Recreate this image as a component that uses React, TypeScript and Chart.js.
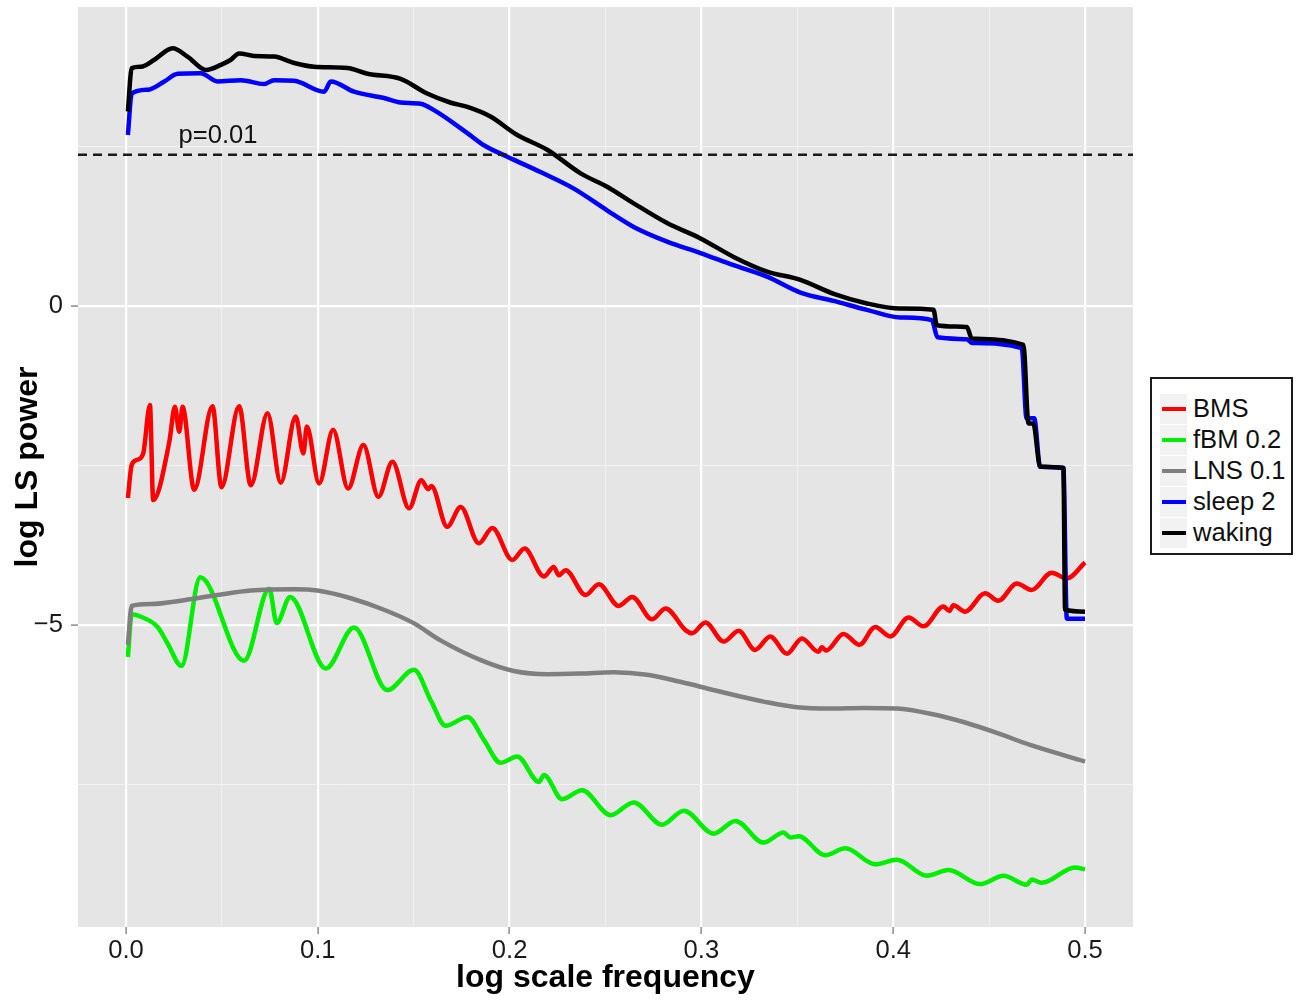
import React, { useEffect, useRef } from "react";
import { Chart, registerables, ChartConfiguration, Plugin } from "chart.js";

Chart.register(...registerables);

// axes
const X_MIN = -0.025;
const X_MAX = 0.525;
const Y_MIN = -9.733;
const Y_MAX = 4.687;
const X_TICKS = [0, 0.05, 0.1, 0.15, 0.2, 0.25, 0.3, 0.35, 0.4, 0.45, 0.5];
const X_TICK_LABELS = ["0.0", "", "0.1", "", "0.2", "", "0.3", "", "0.4", "", "0.5"];
const Y_TICKS = [-7.5, -5, -2.5, 0, 2.5];
const Y_TICK_LABELS = ["", "\u22125", "", "0", ""];

// significance threshold (dashed line) and its label
const THRESHOLD = 2.37;
const P_LABEL = "p=0.01";
const P_LABEL_X = 0.048;
const P_LABEL_Y = 2.66;

const SERIES_NAMES = ["BMS", "fBM 0.2", "LNS 0.1", "sleep 2", "waking"];
const SERIES_COLORS = ["#FF0000", "#00EE00", "#7F7F7F", "#0000FF", "#000000"];

// BMS (red)
const BMS_X = [
  0.001, 0.003, 0.006, 0.009, 0.0125, 0.0142, 0.0226, 0.0255, 0.0278, 0.0295,
  0.0356, 0.0451, 0.0498, 0.059, 0.0651, 0.0738, 0.0807, 0.0885, 0.0925,
  0.0943, 0.1007, 0.108, 0.1158, 0.1238, 0.1316, 0.1389, 0.1476, 0.154,
  0.1576, 0.1592, 0.1675, 0.1745, 0.184, 0.191, 0.2014, 0.2078, 0.2179, 0.223,
  0.2257, 0.2292, 0.2396, 0.2465, 0.2569, 0.2639, 0.2743, 0.2813, 0.2917,
  0.2951, 0.3021, 0.3116, 0.3194, 0.328, 0.3359, 0.3446, 0.3524, 0.361,
  0.3628, 0.365, 0.3741, 0.3824, 0.3906, 0.3984, 0.408, 0.4158, 0.4262,
  0.4293, 0.4314, 0.4375, 0.4479, 0.4548, 0.4644, 0.4722, 0.4826, 0.4905, 0.5,
];
const BMS_Y = [
  -3.01, -2.49, -2.41, -2.31, -1.55, -3.04, -2.13, -1.58, -1.97, -1.58, -2.88,
  -1.57, -2.84, -1.57, -2.81, -1.68, -2.77, -1.73, -2.31, -1.89, -2.78, -1.94,
  -2.86, -2.18, -2.99, -2.44, -3.17, -2.73, -2.87, -2.82, -3.46, -3.15, -3.72,
  -3.48, -3.98, -3.8, -4.24, -4.09, -4.22, -4.14, -4.53, -4.36, -4.7, -4.56,
  -4.91, -4.74, -5.08, -5.13, -4.96, -5.26, -5.09, -5.39, -5.18, -5.45, -5.21,
  -5.42, -5.35, -5.4, -5.14, -5.31, -5.03, -5.18, -4.88, -5.02, -4.71, -4.78,
  -4.69, -4.79, -4.5, -4.62, -4.35, -4.45, -4.18, -4.27, -4.02,
];

// fBM 0.2 (green)
const FBM_X = [
  0.001, 0.003, 0.0078, 0.0165, 0.0217, 0.029, 0.0387, 0.0616, 0.0747, 0.0786,
  0.0856, 0.1042, 0.1189, 0.1362, 0.1502, 0.1589, 0.1667, 0.178, 0.1866,
  0.1953, 0.204, 0.2153, 0.2179, 0.2274, 0.2378, 0.2526, 0.2647, 0.2795,
  0.2908, 0.3064, 0.3177, 0.3324, 0.3428, 0.3464, 0.3507, 0.3646, 0.375,
  0.3906, 0.4019, 0.4175, 0.4288, 0.4453, 0.4575, 0.4696, 0.4722, 0.4774,
  0.4948, 0.5,
];
const FBM_Y = [
  -5.5, -4.83, -4.87, -5.03, -5.29, -5.64, -4.25, -5.56, -4.43, -4.97, -4.56,
  -5.68, -5.04, -6.02, -5.7, -6.18, -6.58, -6.44, -6.8, -7.16, -7.06, -7.46,
  -7.35, -7.73, -7.59, -7.98, -7.78, -8.13, -7.91, -8.27, -8.07, -8.41, -8.25,
  -8.33, -8.31, -8.61, -8.5, -8.75, -8.68, -8.93, -8.84, -9.06, -8.93, -9.07,
  -8.99, -9.04, -8.8, -8.83,
];

// LNS 0.1 (grey)
const LNS_X = [
  0.001, 0.003, 0.013, 0.0304, 0.0477, 0.065, 0.0877, 0.0998, 0.1172, 0.1345,
  0.15, 0.164, 0.185, 0.2022, 0.2196, 0.237, 0.2543, 0.2717, 0.289, 0.3064,
  0.3203, 0.3324, 0.3498, 0.3672, 0.3845, 0.4019, 0.4193, 0.4366, 0.454,
  0.4714, 0.5,
];
const LNS_Y = [
  -5.31, -4.7, -4.67, -4.61, -4.53, -4.46, -4.44, -4.46, -4.58, -4.76, -4.97,
  -5.24, -5.55, -5.72, -5.77, -5.76, -5.74, -5.78, -5.89, -6.02, -6.12, -6.2,
  -6.29, -6.31, -6.3, -6.31, -6.39, -6.52, -6.69, -6.88, -7.14,
];

// sleep 2 (blue)
const SLEEP_X = [
  0.001, 0.003, 0.0113, 0.02, 0.027, 0.039, 0.0477, 0.0599, 0.072, 0.0772,
  0.0877, 0.1033, 0.1068, 0.1189, 0.1345, 0.1432, 0.1536, 0.1606, 0.178,
  0.1866, 0.1988, 0.2161, 0.2335, 0.2508, 0.2647, 0.2821, 0.2995, 0.3168,
  0.3342, 0.3516, 0.369, 0.3863, 0.4036, 0.4201, 0.4231, 0.4384, 0.441, 0.467,
  0.4695, 0.4735, 0.4766, 0.4887, 0.4905, 0.5,
];
const SLEEP_Y = [
  2.68, 3.33, 3.39, 3.52, 3.64, 3.65, 3.52, 3.54, 3.48, 3.54, 3.53, 3.36, 3.52,
  3.36, 3.26, 3.19, 3.17, 3.07, 2.71, 2.52, 2.34, 2.1, 1.84, 1.5, 1.24, 1.01,
  0.83, 0.64, 0.46, 0.21, 0.08, -0.06, -0.18, -0.22, -0.49, -0.52, -0.58,
  -0.66, -1.76, -1.76, -2.52, -2.54, -4.9, -4.9,
];

// waking (black)
const WAKING_X = [
  0.001, 0.003, 0.0078, 0.0148, 0.0243, 0.0321, 0.0417, 0.0495, 0.0547, 0.059,
  0.0668, 0.0772, 0.0877, 0.0981, 0.1155, 0.1259, 0.1432, 0.157, 0.169, 0.178,
  0.19, 0.204, 0.2196, 0.237, 0.2508, 0.2647, 0.2821, 0.2995, 0.3168, 0.3342,
  0.3516, 0.369, 0.3863, 0.4036, 0.421, 0.4227, 0.4384, 0.441, 0.4679, 0.4705,
  0.473, 0.4766, 0.4887, 0.4896, 0.5,
];
const WAKING_Y = [
  3.05, 3.73, 3.75, 3.86, 4.04, 3.91, 3.7, 3.78, 3.86, 3.96, 3.92, 3.91, 3.81,
  3.75, 3.73, 3.64, 3.56, 3.33, 3.19, 3.12, 2.97, 2.68, 2.45, 2.08, 1.87, 1.61,
  1.3, 1.06, 0.77, 0.54, 0.41, 0.19, 0.04, -0.04, -0.06, -0.3, -0.33, -0.51,
  -0.61, -1.84, -1.84, -2.52, -2.54, -4.76, -4.79,
];

const SERIES_X = [BMS_X, FBM_X, LNS_X, SLEEP_X, WAKING_X];
const SERIES_Y = [BMS_Y, FBM_Y, LNS_Y, SLEEP_Y, WAKING_Y];

const FONT = '"Liberation Sans", Arial, Helvetica, sans-serif';

// grey panel behind the grid
const panelBackground: Plugin<"line"> = {
  id: "panelBackground",
  beforeDraw(chart) {
    const { ctx, chartArea } = chart;
    ctx.save();
    ctx.fillStyle = "#E5E5E5";
    ctx.fillRect(
      chartArea.left,
      chartArea.top,
      chartArea.right - chartArea.left,
      chartArea.bottom - chartArea.top,
    );
    ctx.restore();
  },
};

// "p=0.01" annotation
const pLabel: Plugin<"line"> = {
  id: "pLabel",
  afterDatasetsDraw(chart) {
    const { ctx, scales } = chart;
    ctx.save();
    ctx.font = `25.6px ${FONT}`;
    ctx.fillStyle = "#111";
    ctx.textAlign = "center";
    ctx.textBaseline = "middle";
    ctx.fillText(
      P_LABEL,
      scales.x.getPixelForValue(P_LABEL_X),
      scales.y.getPixelForValue(P_LABEL_Y),
    );
    ctx.restore();
  },
};

const isMajor = (v: number, step: number) =>
  Math.abs(v / step - Math.round(v / step)) < 1e-6;

const App: React.FC = () => {
  const canvasRef = useRef<HTMLCanvasElement>(null);

  useEffect(() => {
    document.body.style.margin = "0";
    if (!canvasRef.current) return;

    const lines = SERIES_NAMES.map((name, i) => ({
      label: name,
      data: SERIES_X[i].map((x, j) => ({ x, y: SERIES_Y[i][j] })),
      borderColor: SERIES_COLORS[i],
      borderWidth: 4.5,
      pointRadius: 0,
      cubicInterpolationMode: "monotone" as const,
      order: SERIES_NAMES.length - 1 - i,
    }));

    const config: ChartConfiguration<"line"> = {
      type: "line",
      data: {
        datasets: [
          ...lines,
          {
            label: "threshold",
            data: [
              { x: X_MIN, y: THRESHOLD },
              { x: X_MAX, y: THRESHOLD },
            ],
            borderColor: "#1a1a1a",
            borderWidth: 2.5,
            borderDash: [9, 6],
            pointRadius: 0,
            order: -1,
          },
        ],
      },
      options: {
        animation: false,
        responsive: true,
        maintainAspectRatio: false,
        layout: { padding: { top: 7, right: 167, left: 0, bottom: 0 } },
        plugins: {
          legend: { display: false },
          tooltip: { enabled: false },
        },
        scales: {
          x: {
            type: "linear",
            min: X_MIN,
            max: X_MAX,
            afterBuildTicks: (scale) => {
              scale.ticks = X_TICKS.map((value) => ({ value }));
            },
            afterFit: (scale) => {
              scale.height = 76;
              scale.paddingLeft = 0;
              scale.paddingRight = 0;
            },
            border: { display: false },
            grid: {
              color: (c) => (isMajor(c.tick.value, 0.1) ? "#FFFFFF" : "#F2F2F2"),
              lineWidth: (c) => (isMajor(c.tick.value, 0.1) ? 2.2 : 1),
              tickColor: (c) =>
                isMajor(c.tick.value, 0.1) ? "#8a8a8a" : "rgba(0,0,0,0)",
              tickWidth: 1.5,
              tickLength: 7,
            },
            ticks: {
              autoSkip: false,
              maxRotation: 0,
              padding: 2,
              color: "#1a1a1a",
              font: { family: FONT, size: 25.6 },
              callback: (_v, index) => X_TICK_LABELS[index],
            },
            title: {
              display: true,
              text: "log scale frequency",
              color: "#000",
              font: { family: FONT, size: 32, weight: "bold" },
              padding: { top: 0, bottom: 6 },
            },
          },
          y: {
            type: "linear",
            min: Y_MIN,
            max: Y_MAX,
            afterBuildTicks: (scale) => {
              scale.ticks = Y_TICKS.map((value) => ({ value }));
            },
            afterFit: (scale) => {
              scale.width = 78;
              scale.paddingTop = 0;
              scale.paddingBottom = 0;
            },
            border: { display: false },
            grid: {
              color: (c) => (isMajor(c.tick.value, 5) ? "#FFFFFF" : "#F2F2F2"),
              lineWidth: (c) => (isMajor(c.tick.value, 5) ? 2.2 : 1),
              tickColor: (c) =>
                isMajor(c.tick.value, 5) ? "#8a8a8a" : "rgba(0,0,0,0)",
              tickWidth: 1.5,
              tickLength: 7,
            },
            ticks: {
              padding: 8,
              color: "#1a1a1a",
              font: { family: FONT, size: 25.6 },
              callback: (_v, index) => Y_TICK_LABELS[index],
            },
            title: {
              display: true,
              text: "log LS power",
              color: "#000",
              font: { family: FONT, size: 32, weight: "bold" },
              padding: { top: 9, bottom: 0 },
            },
          },
        },
      },
      plugins: [panelBackground, pLabel],
    };

    const chart = new Chart(canvasRef.current, config);
    return () => chart.destroy();
  }, []);

  return (
    <div
      style={{
        position: "relative",
        width: "1300px",
        height: "1003px",
        background: "#FFFFFF",
        fontFamily: FONT,
      }}
    >
      <canvas ref={canvasRef}></canvas>
      <div
        style={{
          position: "absolute",
          left: "1150px",
          top: "377px",
          width: "143px",
          height: "178px",
          border: "2px solid #1a1a1a",
          boxSizing: "border-box",
          background: "#FFFFFF",
          paddingTop: "14px",
          paddingLeft: "8px",
        }}
      >
        {SERIES_NAMES.map((name, i) => (
          <div
            key={name}
            style={{ display: "flex", alignItems: "center", height: "31px" }}
          >
            <div
              style={{
                width: "27px",
                height: "30px",
                background: "#F2F2F2",
                display: "flex",
                alignItems: "center",
                justifyContent: "center",
                marginRight: "6px",
              }}
            >
              <div
                style={{
                  width: "24px",
                  height: "4px",
                  background: SERIES_COLORS[i],
                }}
              />
            </div>
            <span
              style={{ fontSize: "25.6px", color: "#111", lineHeight: "31px" }}
            >
              {name}
            </span>
          </div>
        ))}
      </div>
    </div>
  );
};

export default App;
